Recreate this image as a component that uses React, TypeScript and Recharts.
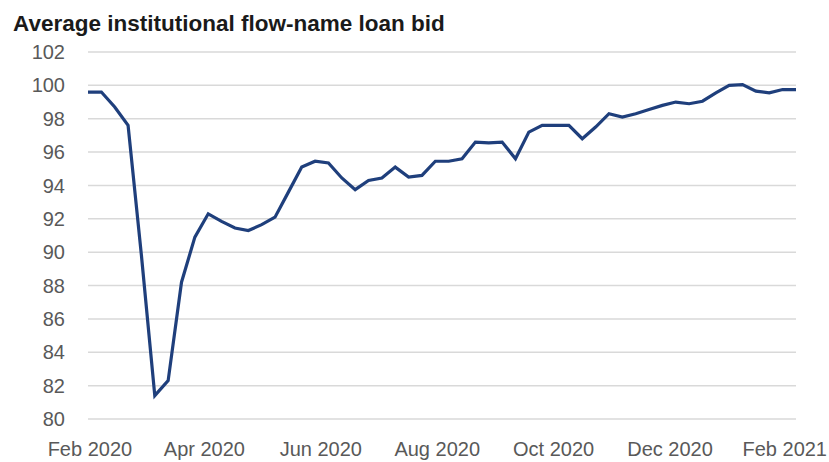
import { CartesianGrid, Line, LineChart, XAxis, YAxis } from 'recharts';

// weekly observations, first one on 31 Jan 2020
const bids = [
  99.6, 99.6, 98.7, 97.6, 89.8, 81.4, 82.3, 88.2, 90.9, 92.3,
  91.85, 91.45, 91.3, 91.65, 92.1, 93.6, 95.1, 95.45, 95.35, 94.45,
  93.75, 94.3, 94.45, 95.1, 94.5, 94.6, 95.45, 95.45, 95.6, 96.6,
  96.55, 96.6, 95.6, 97.2, 97.6, 97.6, 97.6, 96.8, 97.5, 98.3,
  98.1, 98.3, 98.55, 98.8, 99.0, 98.9, 99.05, 99.55, 100.0, 100.05,
  99.65, 99.55, 99.75, 99.75
];

// day offsets (from 31 Jan 2020) of the month starts shown on the axis
const monthTicks = [1, 61, 122, 183, 244, 305, 367];
const monthLabels = ['Feb 2020', 'Apr 2020', 'Jun 2020', 'Aug 2020', 'Oct 2020', 'Dec 2020', 'Feb 2021'];
const yTicks = [80, 82, 84, 86, 88, 90, 92, 94, 96, 98, 100, 102];

const data = bids.map((v, i) => ({ day: i * 7, bid: v }));

const font = '"Liberation Sans", Arial, sans-serif';

// last label sits against the right edge, so keep it inside the page
function MonthTick(props: any) {
  const { x, y, payload } = props;
  const label = monthLabels[monthTicks.indexOf(payload.value)];
  const last = payload.value === monthTicks[monthTicks.length - 1];
  return (
    <text
      x={last ? 827 : x}
      y={y}
      dy='0.71em'
      textAnchor={last ? 'end' : 'middle'}
      fill='#595959'
      fontSize={20}
      fontFamily={font}
    >
      {label}
    </text>
  );
}

export default function App() {
  return (
    <div style={{ position: 'absolute', left: 0, top: 0, width: 829, height: 462, background: '#fff' }}>
      <svg width={829} height={40} style={{ position: 'absolute', left: 0, top: 0 }}>
        <text x={13} y={31} fontFamily={font} fontWeight='bold' fontSize={22.5} fill='#1a1a1a'>
          Average institutional flow-name loan bid
        </text>
      </svg>
      <LineChart
        width={829}
        height={462}
        data={data}
        margin={{ top: 52, right: 33, bottom: 0, left: 28 }}
      >
        <CartesianGrid vertical={false} stroke='#d9d9d9' strokeWidth={1.5} />
        <XAxis
          dataKey='day'
          type='number'
          domain={[0, 371]}
          ticks={monthTicks}
          interval={0}
          axisLine={false}
          tickLine={false}
          tickSize={0}
          tickMargin={23}
          height={43}
          tick={<MonthTick />}
        />
        <YAxis
          domain={[80, 102]}
          ticks={yTicks}
          interval={0}
          axisLine={false}
          tickLine={false}
          tickSize={0}
          tickMargin={23}
          width={60}
          tick={{ fill: '#595959', fontSize: 20, fontFamily: font }}
        />
        <Line
          type='linear'
          dataKey='bid'
          stroke='#1f3f7c'
          strokeWidth={3.2}
          dot={false}
          isAnimationActive={false}
        />
      </LineChart>
    </div>
  );
}
